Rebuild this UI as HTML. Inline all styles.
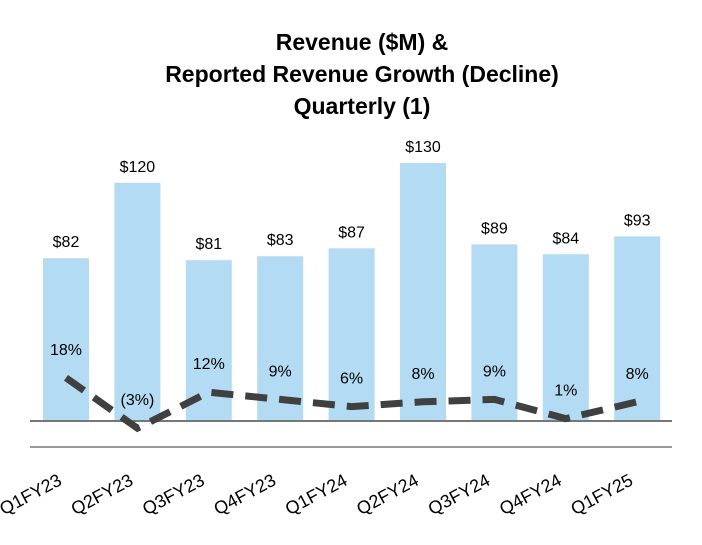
<!DOCTYPE html>
<html><head><meta charset="utf-8"><style>
body{margin:0;background:#fff;width:702px;height:540px;overflow:hidden;font-family:"Liberation Sans",Arial,sans-serif}
</style></head><body>
<svg width="702" height="540" xmlns="http://www.w3.org/2000/svg">
<g font-weight="bold" font-size="23" text-anchor="middle" fill="#000">
<text x="362" y="50">Revenue ($M) &amp;</text>
<text x="362" y="82">Reported Revenue Growth (Decline)</text>
<text x="362" y="114">Quarterly (1)</text>
</g>
<g id="bars"></g>
<line x1="30" x2="672" y1="421" y2="421" stroke="#777" stroke-width="2"/>
<line x1="30" x2="672" y1="447" y2="447" stroke="#999" stroke-width="2"/>
<g id="line"></g>
<g id="labels"></g>
</svg>
<script>
const categories=["Q1FY23","Q2FY23","Q3FY23","Q4FY23","Q1FY24","Q2FY24","Q3FY24","Q4FY24","Q1FY25"];
const revenue=[82,120,81,83,87,130,89,84,93];
const growth=[18,-3,12,9,6,8,9,1,8];
const growthLabels=["18%","(3%)","12%","9%","6%","8%","9%","1%","8%"];
const NS="http://www.w3.org/2000/svg";
const base=421;
const xC=i=>66+i*71.4;
const yRev=v=>base-v*1.985;
const yG=v=>base-v*2.4;
function mk(t,a,parent){const e=document.createElementNS(NS,t);for(const k in a)e.setAttribute(k,a[k]);document.getElementById(parent).appendChild(e);return e;}
revenue.forEach((v,i)=>{
 const r=mk("rect",{x:xC(i)-23,y:yRev(v),width:46,height:base-yRev(v),fill:"#b3dbf3"},"bars");
 
 
 const t=mk("text",{x:xC(i),y:yRev(v)-11,"text-anchor":"middle","font-size":"16",fill:"#000"},"labels");
 t.textContent="$"+v;
 
 
 const g=mk("text",{x:xC(i),y:yG(growth[i])-23+(growth[i]<0?0:0),"text-anchor":"middle","font-size":"16",fill:"#000"},"labels");
 g.textContent=growthLabels[i];
 
 
 const c=mk("text",{x:xC(i)-3,y:484,"text-anchor":"end","font-size":"18",fill:"#000",transform:`rotate(-28 ${xC(i)-3} 484)`},"labels");
 c.textContent=categories[i];
 
 
});
const p=mk("polyline",{points:growth.map((g,i)=>xC(i)+","+yG(g)).join(" "),fill:"none",stroke:"#404040","stroke-width":"7","stroke-dasharray":"22 12"},"line");


</script>
</body></html>
